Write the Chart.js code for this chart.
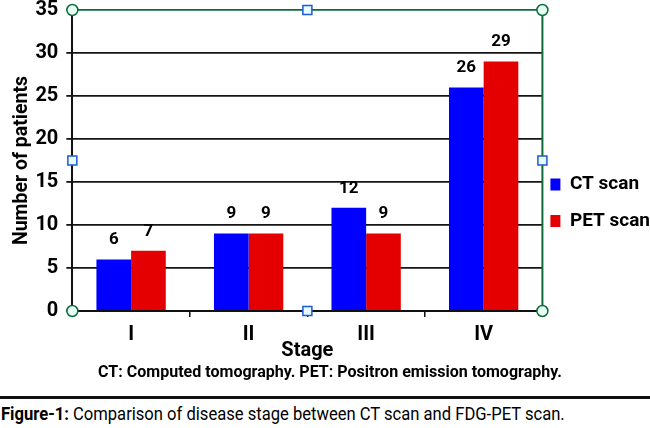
<!DOCTYPE html>
<html>
<head>
<meta charset="utf-8">
<script src="https://cdn.jsdelivr.net/npm/chart.js@4.4.1/dist/chart.umd.min.js"></script>
<style>
  body { margin: 0; background: #fff; }
  #wrap { position: relative; width: 650px; height: 428px; overflow: hidden; font-family: Roboto, 'Liberation Sans', sans-serif; }
  #chartBox { position: absolute; left: 0; top: 0; width: 650px; height: 364px; }
  #note { position: absolute; left: 98px; top: 362px; font-weight: bold; font-size: 16px; white-space: nowrap; transform-origin: 0 0; }
  #rule { position: absolute; left: 0; width: 650px; top: 396px; height: 3px; background: #111; }
  #fig { position: absolute; left: 1px; top: 402px; font-size: 19px; white-space: nowrap; transform-origin: 0 0; }
</style>
</head>
<body>
<div id="wrap">
  <div id="chartBox"><canvas id="stageChart"></canvas></div>
  <div id="note">CT: Computed tomography. PET: Positron emission tomography.</div>
  <div id="rule"></div>
  <div id="fig"><b>Figure-1:</b> Comparison of disease stage between CT scan and FDG-PET scan.</div>
</div>
<script>
// ===============================
// Data
// ===============================
var stages = ["I", "II", "III", "IV"];
var ctScan = [6, 9, 12, 26];
var petScan = [7, 9, 9, 29];
var yTicks = [0, 5, 10, 15, 20, 25, 30, 35];

var FONT = "Roboto, 'Liberation Sans', sans-serif";
var GREEN = "#0b6b3a";

// squeeze the caption lines to the width they have in the figure (it uses a condensed face)
function fitWidth(id, w) {
    var el = document.getElementById(id);
    el.style.transform = "scaleX(" + (w / el.scrollWidth) + ")";
}
fitWidth("note", 464);
fitWidth("fig", 564);

// Numbers above each bar
var barLabels = {
    id: "barLabels",
    afterDatasetsDraw: function(chart) {
        var ctx = chart.ctx;
        ctx.save();
        ctx.font = "bold 17px " + FONT;
        ctx.fillStyle = "#000";
        ctx.textAlign = "center";
        ctx.textBaseline = "bottom";
        chart.data.datasets.forEach(function(ds, i) {
            chart.getDatasetMeta(i).data.forEach(function(bar, j) {
                ctx.fillText(ds.data[j], bar.x, bar.y - 11);
            });
        });
        ctx.restore();
    }
};

// Green right edge and the selection handles round the plot area
var frame = {
    id: "frame",
    afterDraw: function(chart) {
        var a = chart.chartArea;
        var ctx = chart.ctx;
        ctx.save();
        ctx.strokeStyle = GREEN;
        ctx.lineWidth = 2;
        ctx.beginPath();
        ctx.moveTo(a.right, a.top);
        ctx.lineTo(a.right, a.bottom);
        ctx.stroke();

        var midX = (a.left + a.right) / 2;
        var midY = (a.top + a.bottom) / 2;
        [[a.left, a.top], [a.right, a.top], [a.left, a.bottom], [a.right, a.bottom]].forEach(function(p) {
            ctx.beginPath();
            ctx.arc(p[0], p[1], 5.5, 0, Math.PI * 2);
            ctx.fillStyle = "#e6fff4";
            ctx.fill();
            ctx.strokeStyle = GREEN;
            ctx.lineWidth = 1.5;
            ctx.stroke();
        });
        [[midX, a.top], [a.left, midY], [a.right, midY], [midX, a.bottom]].forEach(function(p) {
            ctx.fillStyle = "#e6fbff";
            ctx.fillRect(p[0] - 4.5, p[1] - 4.5, 9, 9);
            ctx.strokeStyle = "#1e5ad6";
            ctx.lineWidth = 1.5;
            ctx.strokeRect(p[0] - 4.5, p[1] - 4.5, 9, 9);
        });
        ctx.restore();
    }
};

var ctx = document.getElementById("stageChart").getContext("2d");

var stageChart = new Chart(ctx, {
    type: "bar",
    data: {
        labels: stages,
        datasets: [
            { label: "CT scan", data: ctScan, backgroundColor: "#0000ff", borderWidth: 0 },
            { label: "PET scan", data: petScan, backgroundColor: "#e40000", borderWidth: 0 }
        ]
    },
    options: {
        responsive: true,
        maintainAspectRatio: false,
        animation: false,
        categoryPercentage: 0.59,
        barPercentage: 1.0,
        layout: { padding: { top: 0, right: -10, left: 0, bottom: 1 } },
        plugins: {
            tooltip: { enabled: false },
            legend: {
                position: "right",
                align: "center",
                // empty title only pushes the two entries down to where they sit in the figure
                title: { display: true, text: "", padding: { top: 51, bottom: 0 }, font: { size: 1, lineHeight: 1 } },
                labels: {
                    boxWidth: 10,
                    boxHeight: 12,
                    padding: 8,
                    color: "#000",
                    font: { family: FONT, size: 19, weight: "bold", lineHeight: 1.5 },
                    // one-line arrays so the row height follows the font line height
                    generateLabels: function(chart) {
                        var items = Chart.defaults.plugins.legend.labels.generateLabels(chart);
                        items.forEach(function(it) { it.text = [it.text]; });
                        return items;
                    }
                }
            }
        },
        scales: {
            x: {
                offset: true,
                grid: { offset: true, drawOnChartArea: false, tickLength: 6, color: "#111", lineWidth: 1.5 },
                border: { color: "#111", width: 2 },
                ticks: { color: "#000", padding: 6, font: { family: FONT, size: 20, weight: "bold" } },
                title: {
                    display: true,
                    text: "Stage",
                    color: "#000",
                    padding: { top: -14, bottom: 0 },
                    font: { family: FONT, size: 20, weight: "bold" }
                }
            },
            y: {
                min: 0,
                max: 35,
                afterBuildTicks: function(axis) {
                    axis.ticks = yTicks.map(function(v) { return { value: v }; });
                },
                grid: {
                    tickLength: 6,
                    lineWidth: 1.8,
                    color: function(c) { return c.tick && c.tick.value === 35 ? GREEN : "#141414"; }
                },
                border: { color: "#111", width: 2 },
                ticks: { color: "#000", padding: 8, font: { family: FONT, size: 20, weight: "bold", lineHeight: 0.2 } },
                title: {
                    display: true,
                    text: "Number of patients",
                    color: "#000",
                    padding: { top: 10, bottom: -6 },
                    font: { family: FONT, size: 19.5, weight: "bold" }
                }
            }
        }
    },
    plugins: [barLabels, frame]
});
</script>
</body>
</html>
